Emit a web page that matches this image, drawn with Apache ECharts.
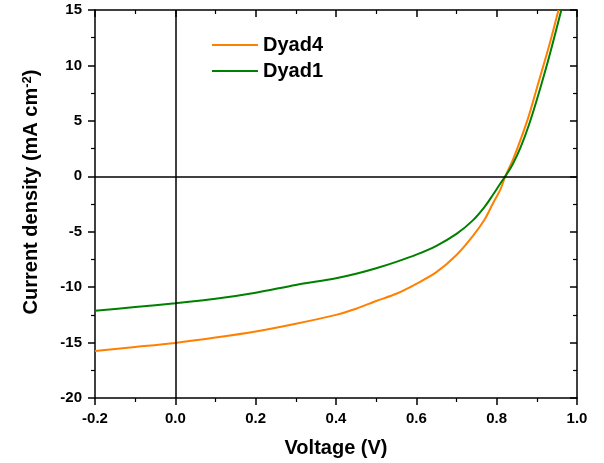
<!DOCTYPE html>
<html>
<head>
<meta charset="utf-8">
<script src="https://cdn.jsdelivr.net/npm/echarts@6/dist/echarts.min.js"></script>
<style>
  html, body { margin: 0; padding: 0; background: #fff; }
  #chart { width: 604px; height: 463px; }
</style>
</head>
<body>
<div id="chart"></div>
<script>
// J-V curves
const dyad4V = [-0.2, -0.1, 0, 0.1, 0.2, 0.3, 0.4, 0.45, 0.5, 0.55, 0.6, 0.65, 0.7, 0.74, 0.77, 0.79, 0.81, 0.8215, 0.84, 0.86, 0.88, 0.9, 0.93, 0.954];
const dyad4J = [-15.75, -15.4, -15.03, -14.55, -14.0, -13.3, -12.5, -11.95, -11.25, -10.6, -9.7, -8.65, -7.1, -5.42, -3.9, -2.5, -1.13, 0, 1.45, 3.35, 5.45, 7.95, 11.7, 15];
const dyad1V = [-0.2, -0.1, 0, 0.1, 0.2, 0.3, 0.4, 0.45, 0.5, 0.55, 0.6, 0.65, 0.7, 0.74, 0.77, 0.79, 0.81, 0.8215, 0.84, 0.86, 0.88, 0.9, 0.93, 0.961];
const dyad1J = [-12.14, -11.8, -11.45, -11.05, -10.5, -9.8, -9.2, -8.8, -8.3, -7.72, -7.07, -6.27, -5.2, -4.0, -2.75, -1.71, -0.6, 0, 1.09, 2.65, 4.6, 6.9, 10.7, 15];

const xMin = -0.2, xMax = 1.0, xStep = 0.2;
const yMin = -20, yMax = 15, yStep = 5;

const font = 'Arial, "Liberation Sans", sans-serif';

function pairs(xs, ys) {
  return xs.map((x, i) => [x, ys[i]]);
}

const chart = echarts.init(document.getElementById('chart'));

const axisLine = { show: true, onZero: false, lineStyle: { color: '#000', width: 1.5 } };
const majorTick = (inside) => ({ show: true, inside: inside, length: 7, lineStyle: { color: '#000', width: 1.5 } });
const minorTick = { show: true, splitNumber: 2, length: 4, lineStyle: { color: '#000', width: 1.2 } };

const option = {
  animation: false,
  backgroundColor: '#fff',
  grid: { left: 95, right: 27, top: 10, bottom: 65 },
  legend: {
    orient: 'vertical',
    left: 207,
    top: 30,
    icon: 'rect',
    itemWidth: 46,
    itemHeight: 2,
    itemGap: 6,
    textStyle: { fontFamily: font, fontWeight: 'bold', fontSize: 20, color: '#000' },
    data: ['Dyad4', 'Dyad1']
  },
  xAxis: [
    {
      type: 'value', min: xMin, max: xMax, interval: xStep,
      position: 'bottom',
      name: 'Voltage (V)', nameLocation: 'middle', nameGap: 40,
      nameTextStyle: { fontFamily: font, fontWeight: 'bold', fontSize: 20, color: '#000' },
      axisLine: axisLine,
      axisTick: majorTick(false),
      minorTick: minorTick,
      axisLabel: {
        fontFamily: font, fontWeight: 'bold', fontSize: 15, color: '#000', margin: 13,
        formatter: v => v.toFixed(1)
      },
      splitLine: { show: false }
    },
    {
      type: 'value', min: xMin, max: xMax, interval: xStep,
      position: 'top',
      axisLine: axisLine,
      axisTick: majorTick(true),
      minorTick: minorTick,
      axisLabel: { show: false },
      splitLine: { show: false }
    }
  ],
  yAxis: [
    {
      type: 'value', min: yMin, max: yMax, interval: yStep,
      position: 'left',
      name: 'Current density (mA cm{sup|-2})', nameLocation: 'middle', nameGap: 54,
      nameTextStyle: {
        fontFamily: font, fontWeight: 'bold', fontSize: 20, color: '#000',
        padding: [0, 0, 0, 24],
        rich: { sup: { fontFamily: font, fontWeight: 'bold', fontSize: 13, color: '#000', verticalAlign: 'top', lineHeight: 14, padding: [0, 0, 8, 0] } }
      },
      axisLine: axisLine,
      axisTick: majorTick(false),
      minorTick: minorTick,
      axisLabel: { fontFamily: font, fontWeight: 'bold', fontSize: 15, color: '#000', margin: 13 },
      splitLine: { show: false }
    },
    {
      type: 'value', min: yMin, max: yMax, interval: yStep,
      position: 'right',
      axisLine: axisLine,
      axisTick: majorTick(true),
      minorTick: minorTick,
      axisLabel: { show: false },
      splitLine: { show: false }
    }
  ],
  series: [
    {
      name: 'Dyad4',
      type: 'line',
      data: pairs(dyad4V, dyad4J),
      showSymbol: false,
      smooth: 0.3,
      lineStyle: { color: '#ff8000', width: 2 },
      itemStyle: { color: '#ff8000' },
      z: 3,
      markLine: {
        silent: true,
        symbol: 'none',
        label: { show: false },
        lineStyle: { color: '#000', width: 1.5, type: 'solid' },
        data: [{ xAxis: 0 }, { yAxis: 0 }]
      }
    },
    {
      name: 'Dyad1',
      type: 'line',
      data: pairs(dyad1V, dyad1J),
      showSymbol: false,
      smooth: 0.3,
      lineStyle: { color: '#008000', width: 2 },
      itemStyle: { color: '#008000' },
      z: 4
    }
  ]
};

chart.setOption(option);
</script>
</body>
</html>
